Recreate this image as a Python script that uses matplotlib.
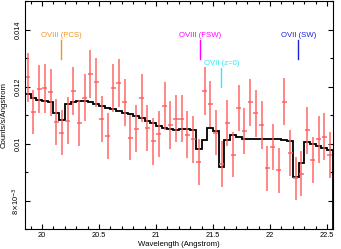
import numpy as np
from matplotlib import pyplot as plt
from matplotlib.ticker import MultipleLocator, FixedLocator, FixedFormatter

plt.rcParams['font.family'] = ['Liberation Sans', 'DejaVu Sans']

# bin centres (Angstrom), 0.05 A bins
wave = [19.875, 19.925, 19.975, 20.025, 20.075, 20.125, 20.175, 20.225, 20.275,
        20.325, 20.375, 20.425, 20.475, 20.525, 20.575, 20.625, 20.675, 20.725,
        20.775, 20.825, 20.875, 20.925, 20.975, 21.025, 21.075, 21.125, 21.175,
        21.225, 21.275, 21.325, 21.375, 21.425, 21.475, 21.525, 21.575, 21.625,
        21.675, 21.725, 21.775, 21.825, 21.875, 21.925, 21.975, 22.025, 22.075,
        22.125, 22.175, 22.225, 22.275, 22.325, 22.375, 22.425, 22.475, 22.525]

# observed rate (counts/s/A) and 1-sigma errors
rate = [0.01233, 0.01111, 0.01193, 0.01194, 0.01180, 0.01075, 0.01039, 0.01081, 0.01184,
        0.01073, 0.01162, 0.01245, 0.01215, 0.01087, 0.01028, 0.01196, 0.01212, 0.01145,
        0.01021, 0.01053, 0.01159, 0.01054, 0.01008, 0.01035, 0.01131, 0.01067, 0.01088,
        0.01088, 0.01032, 0.01015, 0.00936, 0.01186, 0.01139, 0.01038, 0.00929, 0.01073,
        0.00961, 0.01124, 0.01044, 0.01145, 0.01107, 0.01065, 0.00913, 0.00989, 0.00907,
        0.01147, 0.00967, 0.00879, 0.00894, 0.01047, 0.00944, 0.01015, 0.01024, 0.00959]
err = [0.00086, 0.00078, 0.00084, 0.00085, 0.00082, 0.00081, 0.00079, 0.00082, 0.00084,
       0.00081, 0.00084, 0.00085, 0.00085, 0.00081, 0.00081, 0.00084, 0.00084, 0.00082,
       0.00079, 0.00082, 0.00084, 0.00081, 0.00081, 0.00081, 0.00084, 0.00084, 0.00082,
       0.00082, 0.00082, 0.00082, 0.00081, 0.00084, 0.00081, 0.00079, 0.00081, 0.00082,
       0.00079, 0.00081, 0.00081, 0.00083, 0.00082, 0.00084, 0.00079, 0.00081, 0.00079,
       0.00082, 0.00081, 0.00076, 0.00079, 0.00082, 0.00081, 0.00082, 0.00082, 0.00081]

# folded model
model = [0.01173, 0.01162, 0.01155, 0.01149, 0.01145, 0.01108, 0.01082, 0.01141, 0.01147,
         0.01149, 0.01149, 0.01145, 0.01139, 0.01133, 0.01127, 0.01121, 0.01115, 0.01109,
         0.01104, 0.01096, 0.01089, 0.01081, 0.01073, 0.01061, 0.01055, 0.01051, 0.01049,
         0.01051, 0.01053, 0.01049, 0.00982, 0.01014, 0.01054, 0.01045, 0.00918, 0.01012,
         0.01029, 0.01024, 0.01018, 0.01018, 0.01018, 0.01018, 0.01017, 0.01017, 0.01016,
         0.01014, 0.01009, 0.00882, 0.00934, 0.01006, 0.01000, 0.00991, 0.00986, 0.00979]

# line identifications
line_names = ['OVIII (PCS)', 'OVIII (FSW)', 'OVII (z=0)', 'OVII (SW)']
line_wave = [20.17, 21.389, 21.573, 22.248]
line_top = [0.01365, 0.01365, 0.01264, 0.01365]
line_bot = [0.01298, 0.01298, 0.01198, 0.01298]
line_cols = ['#f7941d', '#ff00ff', '#33e6f0', '#1f1fe0']

half_bin = 0.025
edges = np.append(np.array(wave) - half_bin, wave[-1] + half_bin)

fig = plt.figure(figsize=(3.41, 2.49), dpi=100)
ax = fig.add_axes([0.073, 0.0795, 0.903, 0.9157])

ax.errorbar(wave, rate, yerr=err, xerr=0.022, fmt='none', ecolor='#ff5a5a',
            elinewidth=1.2, capsize=0, alpha=0.85)
ax.stairs(model, edges, color='black', lw=1.3)

for name, w, t, b, c in zip(line_names, line_wave, line_top, line_bot, line_cols):
    ax.plot([w, w], [b, t], color=c, lw=1.0)
    ax.text(w, t + 0.00004, name, color=c, fontsize=5.6, ha='center', va='bottom')

ax.set_xlim(19.85, 22.55)
ax.set_ylim(0.007, 0.015)

ax.xaxis.set_major_locator(MultipleLocator(0.5))
ax.xaxis.set_minor_locator(MultipleLocator(0.1))
ax.xaxis.set_major_formatter(plt.FuncFormatter(lambda v, p: '%g' % v))
yticks = [0.008, 0.01, 0.012, 0.014]
ax.yaxis.set_major_locator(FixedLocator(yticks))
ax.yaxis.set_major_formatter(FixedFormatter([r'8$\times$10$^{-3}$', '0.01', '0.012', '0.014']))
ax.yaxis.set_minor_locator(MultipleLocator(0.001))

ax.tick_params(which='both', direction='in', top=True, right=True, width=0.8,
               labelsize=5.3, pad=2)
ax.tick_params(which='major', length=3.5)
ax.tick_params(which='minor', length=2)
for lab in ax.get_yticklabels():
    lab.set_rotation(90)
    lab.set_va('center')
for sp in ax.spines.values():
    sp.set_linewidth(0.8)

ax.set_xlabel('Wavelength (Angstrom)', fontsize=5.6, labelpad=1.5)
ax.set_ylabel('Counts/s/Angstrom', fontsize=5.6, labelpad=2)

fig.savefig('out.png', dpi=100)
